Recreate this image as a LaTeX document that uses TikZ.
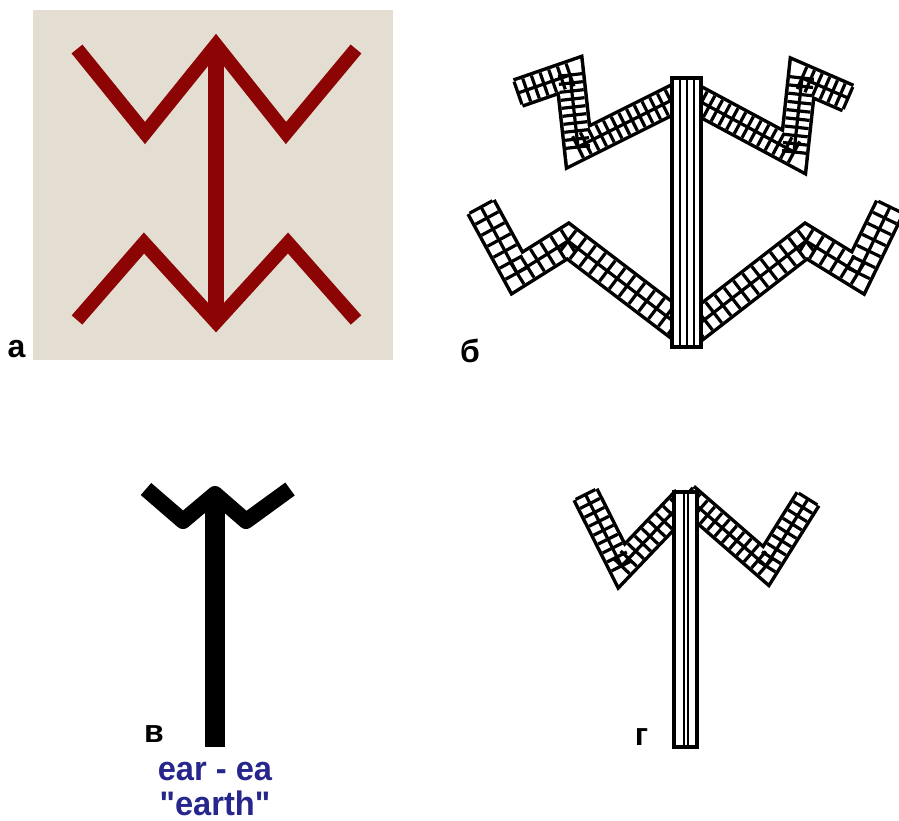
\documentclass[tikz,border=0pt]{standalone}
\usepackage{fontspec}
\setmainfont{Liberation Sans}
\newfontfamily\plainsans{Liberation Sans}[Ligatures=TeXOff]
\definecolor{runered}{RGB}{140,4,4}
\definecolor{beigebg}{RGB}{228,222,210}
\definecolor{navytext}{RGB}{38,38,140}
\tikzset{
  gridl/.style={line width=3.2pt, line cap=butt},
  lbl/.style={font=\bfseries\fontsize{32}{32}\selectfont, inner sep=0pt, anchor=base},
  bluetxt/.style={font=\plainsans\bfseries\fontsize{34}{34}\selectfont, text=navytext, inner sep=0pt, anchor=base},
  redline/.style={runered, line width=14pt, line join=miter, line cap=butt},
  barbox/.style={draw, fill=white, line width=3.6pt},
  barin/.style={line width=2.4pt},
}
% hatched segment: x1,y1,x2,y2, half width, pitch
\newcommand\gseg[6]{%
  \pgfmathsetmacro\ga{atan2(-(#4-#2),#3-#1)}%
  \pgfmathsetmacro\gl{veclen(#3-#1,#4-#2)}%
  \pgfmathtruncatemacro\gn{max(1,round(\gl/#6))}%
  \begin{scope}[shift={(#1,#2)},rotate=\ga]
    \foreach \k in {0,...,\gn}{\draw[gridl] (\k*\gl/\gn,-#5) -- (\k*\gl/\gn,#5);}
    \draw[gridl] (0,0) -- (\gl,0);
  \end{scope}}
% band outline: outer width, inner width, path
\newcommand\bandbase[3]{%
  \draw[line width=#1pt, line join=miter, line cap=butt] #3;
  \draw[white, line width=#2pt, line join=miter, line cap=butt] #3;}
\begin{document}
\begin{tikzpicture}[x=1pt,y=-1pt]
\useasboundingbox (0,0) rectangle (899,821);
\fill[white] (0,0) rectangle (899,821);

% ---------- panel a ----------
\fill[beigebg] (33,10) rectangle (393,360);
\draw[redline] (77,49) -- (145,133) -- (216,45) -- (286,133) -- (356,49);
\draw[redline] (77,320) -- (144,243) -- (216,322) -- (288,243) -- (356,320);
\draw[runered, line width=16pt] (216,50) -- (216,318);

% ---------- panel b ----------
% upper left
\bandbase{31}{24}{(518,93) -- (570,75) -- (578,147) -- (686,93)}
\gseg{518}{93}{570}{75}{12}{8.5}
\gseg{570}{75}{578}{147}{12}{8.5}
\gseg{578}{147}{686}{93}{12}{8.5}
% upper right
\bandbase{31}{24}{(848,98) -- (802,78) -- (794,152) -- (686,94)}
\gseg{848}{98}{802}{78}{12}{8.5}
\gseg{802}{78}{794}{152}{12}{8.5}
\gseg{794}{152}{686}{94}{12}{8.5}
% lower left
\bandbase{33}{26}{(481,207) -- (517,273) -- (568,241) -- (686,331)}
\gseg{481}{207}{517}{273}{13}{12}
\gseg{517}{273}{568}{241}{13}{12}
\gseg{568}{241}{686}{331}{13}{12}
% lower right
\bandbase{33}{26}{(890,207) -- (858,273) -- (806,241) -- (686,334)}
\gseg{890}{207}{858}{273}{13}{12}
\gseg{858}{273}{806}{241}{13}{12}
\gseg{806}{241}{686}{334}{13}{12}
% bar
\draw[barbox] (672,78) rectangle (701,347);
\draw[barin] (680,78) -- (680,347);
\draw[barin] (687,78) -- (687,347);
\draw[barin] (694,78) -- (694,347);

% ---------- panel v ----------
\draw[line width=16pt, line join=round, line cap=butt] (146,489) -- (183,521) -- (215,494) -- (246,521) -- (290,489);
\fill (205,494) rectangle (225,747);

% ---------- panel g ----------
\bandbase{29}{22}{(585.5,494.5) -- (621.5,566) -- (685.5,499)}
\gseg{585.5}{494.5}{621.5}{566}{11}{10}
\gseg{621.5}{566}{685.5}{499}{11}{10}
\bandbase{29}{22}{(808,499) -- (766,566) -- (685.5,496)}
\gseg{808}{499}{766}{566}{11}{10}
\gseg{766}{566}{685.5}{496}{11}{10}
\draw[barbox] (674,492) rectangle (697,747);
\draw[barin] (684,492) -- (684,747);
\draw[barin] (688,492) -- (688,747);

% ---------- labels ----------
\node[lbl] (la) at (16.5,357) {а};
\node[lbl] (lb) at (470,362) {б};
\node[lbl] (lv) at (154,742) {в};
\node[lbl] (lg) at (641.5,745) {г};
\node[bluetxt] (t1) at (215,780) {\scalebox{0.96}[1]{ear - ea}};
\node[bluetxt] (t2) at (215,815) {\scalebox{0.96}[1]{"earth"}};
\end{tikzpicture}
\end{document}
